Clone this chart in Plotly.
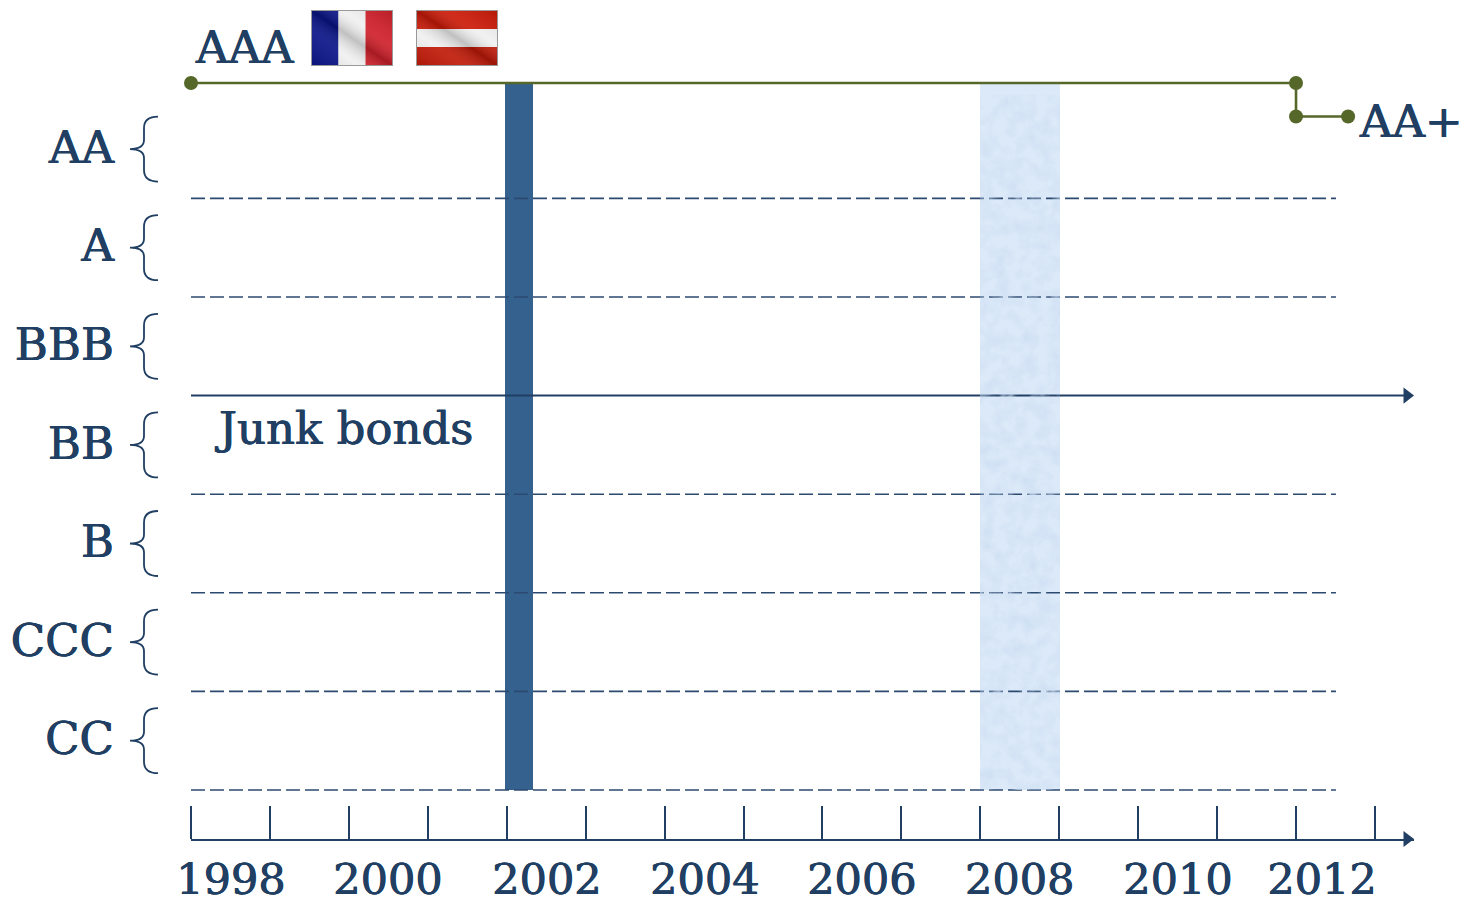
import base64
import plotly.graph_objects as go

# ---- data ----
rating_labels = ["CC", "CCC", "B", "BB", "BBB", "A", "AA"]
rating_rows = [0.5, 1.5, 2.5, 3.5, 4.5, 5.5, 6.5]
label_rows = [0.52, 1.52, 2.52, 3.52, 4.52, 5.52, 6.52]
dashed_levels = [0, 1, 2, 3, 5, 6]
investment_line = 4
line_start = 1998
line_end = 2012.506
years_major = [1998.507, 2000.496, 2002.51, 2004.51, 2006.5, 2008.5, 2010.505, 2012.33]
year_labels = ["1998", "2000", "2002", "2004", "2006", "2008", "2010", "2012"]
year_ticks = list(range(1998, 2014))
rating_x = [1998, 2012, 2012, 2012.66]
rating_y = [7.17, 7.17, 6.83, 6.83]
crisis_x = [2002.156, 2008.503]
crisis_w = [0.355, 1.014]
crisis_top = [7.17, 7.17]

NAVY = "#213f63"
GREEN = "#55682a"
FONT = "DejaVu Serif"
HEAVY = f"0.45px 0 0 {NAVY}, -0.45px 0 0 {NAVY}"
W, H = 1466, 898
L, R, T, B = 191, 1414, 0, 839
PX_PER_YEAR = 78.93


def flag(kind):
    if kind == "fr":
        body = ('<rect x="0" y="0" width="27.5" height="56" fill="#0a1488"/>'
                '<rect x="27.5" y="0" width="27" height="56" fill="#f0f0f0"/>'
                '<rect x="54.5" y="0" width="27.5" height="56" fill="#d0202a"/>')
    else:
        body = ('<rect x="0" y="0" width="82" height="19" fill="#cc1a08"/>'
                '<rect x="0" y="19" width="82" height="18" fill="#f0f0f0"/>'
                '<rect x="0" y="37" width="82" height="19" fill="#c01a08"/>')
    svg = ('<svg xmlns="http://www.w3.org/2000/svg" width="82" height="56" viewBox="0 0 82 56">'
           '<defs><linearGradient id="g" x1="0" y1="1" x2="1" y2="0">'
           '<stop offset="0" stop-color="#000" stop-opacity="0.12"/>'
           '<stop offset="0.3" stop-color="#fff" stop-opacity="0.08"/>'
           '<stop offset="0.5" stop-color="#000" stop-opacity="0.2"/>'
           '<stop offset="0.68" stop-color="#fff" stop-opacity="0.08"/>'
           '<stop offset="1" stop-color="#000" stop-opacity="0.12"/>'
           '</linearGradient></defs>' + body +
           '<rect x="0" y="0" width="82" height="56" fill="url(#g)"/>'
           '<rect x="0.5" y="0.5" width="81" height="55" fill="none" stroke="#999" stroke-width="1"/>'
           '</svg>')
    return "data:image/svg+xml;base64," + base64.b64encode(svg.encode()).decode()


texture = ('<svg xmlns="http://www.w3.org/2000/svg" width="80" height="707">'
           '<filter id="n" x="0" y="0" width="100%" height="100%">'
           '<feTurbulence type="fractalNoise" baseFrequency="0.07" numOctaves="3" seed="4"/>'
           '<feColorMatrix values="0 0 0 0 0.62  0 0 0 0 0.74  0 0 0 0 0.90  0 0 0 2.2 -0.8"/></filter>'
           '<rect width="80" height="707" filter="url(#n)"/></svg>')
texture_uri = "data:image/svg+xml;base64," + base64.b64encode(texture.encode()).decode()

fig = go.Figure()

fig.add_trace(go.Bar(
    x=crisis_x, y=crisis_top, width=crisis_w, base=0,
    marker=dict(color=["#35618f", "#dbe9f8"], line_width=0),
    hoverinfo="skip", showlegend=False))

for lv in dashed_levels:
    fig.add_trace(go.Scatter(
        x=[line_start, line_end], y=[lv, lv], mode="lines",
        line=dict(color="#2c4a70", width=1.6, dash="14px,5px"),
        hoverinfo="skip", showlegend=False))

arrow_end = (R - 7 - L) / PX_PER_YEAR + 1998
fig.add_trace(go.Scatter(
    x=[line_start, arrow_end], y=[investment_line, investment_line],
    mode="lines", cliponaxis=False,
    line=dict(color=NAVY, width=2),
    hoverinfo="skip", showlegend=False))

fig.add_trace(go.Scatter(
    x=[arrow_end, arrow_end], y=[investment_line, -0.497], mode="markers", cliponaxis=False,
    marker=dict(symbol="triangle-right", size=14, color=NAVY, line_width=0),
    hoverinfo="skip", showlegend=False))

fig.add_trace(go.Scatter(
    x=rating_x, y=rating_y, mode="lines+markers", cliponaxis=False,
    line=dict(color=GREEN, width=2.6),
    marker=dict(size=14, color=GREEN, line_width=0),
    hoverinfo="skip", showlegend=False))

shapes = []
brace = ("M -33,-32.5 Q -47,-32.5 -47,-21 L -47,-9 Q -47,0 -61,0 "
         "Q -47,0 -47,9 L -47,21 Q -47,32.5 -33,32.5")
for r in rating_rows:
    shapes.append(dict(type="path", path=brace, xref="paper", yref="y",
                       xsizemode="pixel", ysizemode="pixel", xanchor=0, yanchor=r,
                       line=dict(color=NAVY, width=1.8)))

px = lambda v: (v - L) / (R - L)
py = lambda v: (B - v) / (B - T)
images = [
    dict(source=flag("fr"), xref="paper", yref="paper", x=px(311), y=py(10),
         sizex=82 / (R - L), sizey=56 / (B - T), sizing="stretch", layer="above"),
    dict(source=flag("at"), xref="paper", yref="paper", x=px(416), y=py(10),
         sizex=82 / (R - L), sizey=56 / (B - T), sizing="stretch", layer="above"),
    dict(source=texture_uri, xref="x", yref="y", x=crisis_x[1] - crisis_w[1] / 2, y=7.05,
         sizex=crisis_w[1], sizey=7.05, sizing="stretch", layer="above", opacity=0.8),
]

annotations = [
    dict(text="AAA", x=px(244), y=py(48), xref="paper", yref="paper"),
    dict(text="AA+", x=px(1411), y=py(121), xref="paper", yref="paper"),
    dict(text="Junk bonds", x=px(344), y=py(428), xref="paper", yref="paper"),
]
for a in annotations:
    a.update(showarrow=False, xanchor="center", yanchor="middle",
             font=dict(family=FONT, size=45, color=NAVY, shadow=HEAVY))

fig.update_layout(
    width=W, height=H,
    margin=dict(l=L, r=W - R, t=T, b=H - B),
    paper_bgcolor="white", plot_bgcolor="white",
    bargap=0, showlegend=False,
    shapes=shapes, images=images, annotations=annotations,
    xaxis=dict(
        range=[1998, 1998 + (R - L) / PX_PER_YEAR], automargin=False,
        tickmode="array", tickvals=years_major, ticktext=year_labels,
        ticks="", ticklabelstandoff=1,
        tickfont=dict(family=FONT, size=43, color=NAVY, shadow=HEAVY),
        showgrid=False, zeroline=False,
        showline=True, linecolor=NAVY, linewidth=2,
        minor=dict(tickmode="array", tickvals=year_ticks, ticks="inside",
                   ticklen=33, tickwidth=1.6, tickcolor=NAVY, showgrid=False),
    ),
    yaxis=dict(
        range=[-0.497, 8.012], automargin=False,
        tickmode="array", tickvals=label_rows, ticktext=rating_labels,
        ticks="", ticklabelstandoff=76,
        tickfont=dict(family=FONT, size=45, color=NAVY, shadow=HEAVY),
        showgrid=False, zeroline=False, showline=False,
    ),
)

fig.write_html("out.html", config=dict(displayModeBar=False),
               post_script="document.body.style.margin='0';document.body.style.overflow='hidden';")
